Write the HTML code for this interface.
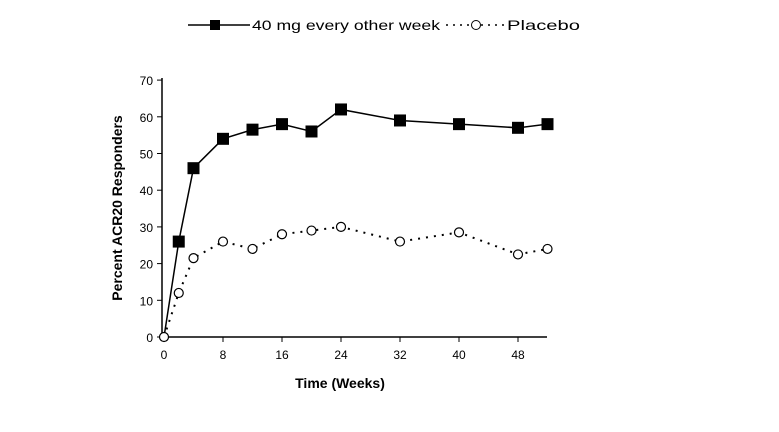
<!DOCTYPE html>
<html><head><meta charset="utf-8"><style>
body{margin:0;background:#fff;}
svg{display:block;font-family:"Liberation Sans",Arial,sans-serif;}
</style></head><body>
<svg id="c" width="779" height="432">
<g>
 <line x1="188" y1="25" x2="250" y2="25" stroke="#000" stroke-width="1.5"/>
 <rect x="210" y="20" width="10" height="10" fill="#000"/>
 <text x="252" y="30" font-size="14" textLength="188" lengthAdjust="spacingAndGlyphs">40 mg every other week</text>
 <line x1="446" y1="25" x2="505" y2="25" stroke="#000" stroke-width="1.5" stroke-dasharray="2,5"/>
 <circle cx="476" cy="25" r="4.5" fill="#fff" stroke="#000"/>
 <text x="507" y="30" font-size="14" textLength="73" lengthAdjust="spacingAndGlyphs">Placebo</text>
</g>
<g id="axes"></g>
<g id="marks"></g>
<text x="340" y="388" font-size="14" font-weight="bold" text-anchor="middle">Time (Weeks)</text>
<text transform="translate(122,208) rotate(-90)" font-size="14" font-weight="bold" text-anchor="middle">Percent ACR20 Responders</text>
</svg>
<script>
const weeks=[0,2,4,8,12,16,20,24,32,40,48,52];
const activeVals=[0,26,46,54,56.5,58,56,62,59,58,57,58];
const placeboVals=[0,12,21.5,26,24,28,29,30,26,28.5,22.5,24];
const xTicks=[0,8,16,24,32,40,48];
const yTicks=[0,10,20,30,40,50,60,70];
const X=v=>164+v*7.375, Y=v=>337-v*3.67;
const NS="http://www.w3.org/2000/svg";
function mk(p,t,a){const e=document.createElementNS(NS,t);for(const k in a)e.setAttribute(k,a[k]);p.appendChild(e);return e;}
const ax=document.getElementById('axes'), mg=document.getElementById('marks');
let l=mk(ax,'line',{x1:162,y1:78,x2:162,y2:337,stroke:'#000','stroke-width':1.5});


l=mk(ax,'line',{x1:162,y1:337,x2:547,y2:337,stroke:'#000','stroke-width':1.5});


yTicks.forEach(v=>{mk(ax,'line',{x1:157,y1:Y(v),x2:162,y2:Y(v),stroke:'#000'});
 const t=mk(ax,'text',{x:153,y:Y(v)+5,'font-size':12,'text-anchor':'end'});t.textContent=v;
 
 });
xTicks.forEach(v=>{mk(ax,'line',{x1:X(v),y1:337,x2:X(v),y2:342,stroke:'#000'});
 const t=mk(ax,'text',{x:X(v),y:359,'font-size':12,'text-anchor':'middle'});t.textContent=v;
 
 });
let p=mk(mg,'polyline',{points:weeks.map((w,i)=>X(w)+','+Y(placeboVals[i])).join(' '),fill:'none',stroke:'#000','stroke-width':2,'stroke-dasharray':'2,6'});


p=mk(mg,'polyline',{points:weeks.map((w,i)=>X(w)+','+Y(activeVals[i])).join(' '),fill:'none',stroke:'#000','stroke-width':1.5});


weeks.forEach((w,i)=>{const c=mk(mg,'circle',{cx:X(w),cy:Y(placeboVals[i]),r:4.5,fill:'#fff',stroke:'#000','stroke-width':1.2});
 
 });
weeks.forEach((w,i)=>{if(i===0)return;const r=mk(mg,'rect',{x:X(w)-6,y:Y(activeVals[i])-6,width:12,height:12,fill:'#000'});
 
 });
</script>
</body></html>
